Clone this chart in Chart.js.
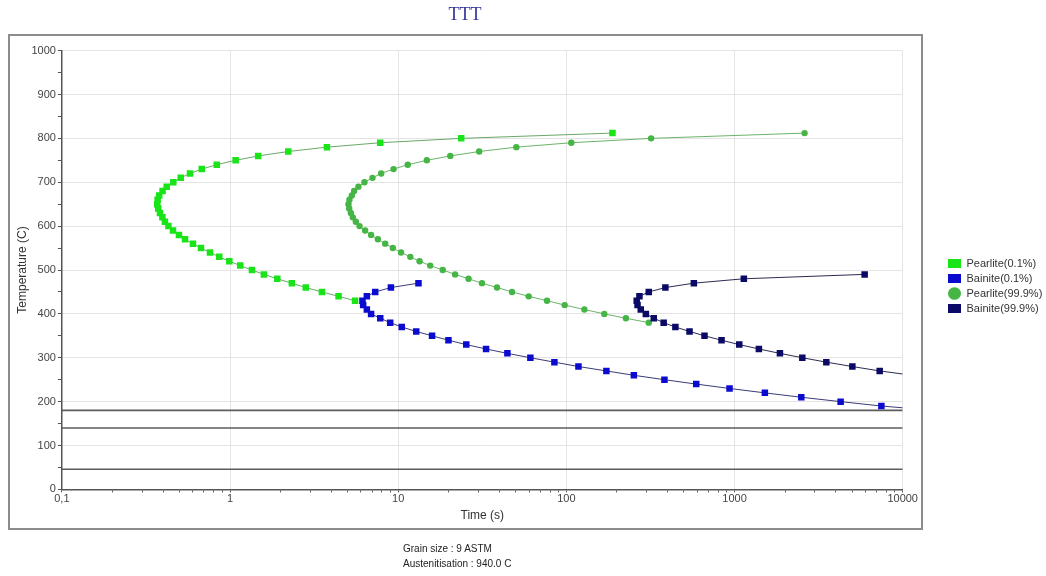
<!DOCTYPE html>
<html>
<head>
<meta charset="utf-8">
<title>TTT</title>
<script src="https://cdn.jsdelivr.net/npm/chart.js@4.4.1/dist/chart.umd.min.js"></script>
<style>
  html, body { margin: 0; padding: 0; background: #fff; }
  #wrap { position: relative; width: 1046px; height: 576px; }
  #notes {
    position: absolute; left: 403px; top: 541px;
    font: 10px 'Liberation Sans', Arial, sans-serif; color: #222; line-height: 15px;
  }
</style>
</head>
<body>
<div id="wrap">
  <canvas id="ttt" width="1046" height="576"></canvas>
  <div id="notes">
    <div>Grain size : 9 ASTM</div>
    <div>Austenitisation : 940.0 C</div>
  </div>
</div>
<script>
// ---- Transformation curves (time in s, temperature in °C) ----
const pearliteStartTemp = [430, 440, 450, 460, 470, 480, 490, 500, 510, 520, 530, 540, 550, 560, 570, 580, 590, 600, 610, 620,
  630, 640, 650, 660, 670, 680, 690, 700, 710, 720, 730, 740, 750, 760, 770, 780, 790, 800, 812];
const pearliteStartTime = [5.54, 4.42, 3.52, 2.82, 2.33, 1.91, 1.59, 1.35, 1.15, 0.99, 0.863, 0.76, 0.672, 0.602, 0.54, 0.497, 0.458, 0.43, 0.41, 0.396,
  0.383, 0.374, 0.369, 0.371, 0.379, 0.397, 0.42, 0.46, 0.509, 0.578, 0.679, 0.834, 1.08, 1.47, 2.22, 3.77, 7.82, 23.7, 188];

const bainiteStartTemp = [470, 460, 450, 440, 430, 420, 410, 400, 390, 380, 370, 360, 350, 340, 330, 320, 310, 300, 290, 280,
  270, 260, 250, 240, 230, 220, 210, 200, 190];
const bainiteStartTime = [13.2, 9.05, 7.3, 6.51, 6.13, 6.19, 6.51, 6.9, 7.82, 8.96, 10.5, 12.8, 15.9, 19.9, 25.4, 33.3, 44.6, 61.1, 84.9, 118,
  173, 252, 383, 592, 934, 1515, 2495, 4275, 7470];
const bainiteStartLineEnd = [10000, 186];

const pearliteEndTemp = [380, 390, 400, 410, 420, 430, 440, 450, 460, 470, 480, 490, 500, 510, 520, 530, 540, 550, 560, 570,
  580, 590, 600, 610, 620, 630, 640, 650, 660, 670, 680, 690, 700, 710, 720, 730, 740, 750, 760, 770, 780, 790, 800, 812];
const pearliteEndTime = [309, 226, 168, 128, 97.7, 76.7, 59.7, 47.5, 38.7, 31.5, 26.2, 21.8, 18.4, 15.5, 13.4, 11.8, 10.4, 9.29, 8.37, 7.57,
  6.9, 6.36, 5.89, 5.6, 5.37, 5.23, 5.11, 5.06, 5.13, 5.3, 5.47, 5.8, 6.3, 7.03, 7.92, 9.38, 11.4, 14.8, 20.4, 30.3, 50.4, 107, 319, 2610];

const bainiteEndTemp = [490, 480, 470, 460, 450, 440, 430, 420, 410, 400, 390, 380, 370, 360, 350, 340, 330, 320, 310, 300,
  290, 280, 270];
const bainiteEndTime = [5940, 1136, 573, 388, 309, 272, 262, 265, 277, 297, 331, 379, 445, 540, 663, 837, 1067, 1396, 1862, 2530,
  3515, 5020, 7300];
const bainiteEndLineEnd = [10000, 263];

// Martensite levels drawn across the whole time range
const martensiteTemps = [180, 140, 46];
const timeRange = [0.1, 10000];

// ---- Axis ticks ----
const timeDecades = [0.1, 1, 10, 100, 1000, 10000];
const timeDecadeLabels = ['0,1', '1', '10', '100', '1000', '10000'];
const timeMinorSteps = [1, 2, 3, 4, 5, 6, 7, 8, 9];
const tempMajorStep = 100;
const tempMinorStep = 50;

const timeTickValues = [];
timeDecades.slice(0, -1).forEach(d => timeMinorSteps.forEach(m => timeTickValues.push(+(d * m).toPrecision(6))));
timeTickValues.push(timeDecades[timeDecades.length - 1]);

function isDecade(v) {
  return timeDecades.some(d => Math.abs(d - v) / d < 1e-6);
}
function decadeLabel(v) {
  const i = timeDecades.findIndex(d => Math.abs(d - v) / d < 1e-6);
  return i >= 0 ? timeDecadeLabels[i] : '';
}

function curve(label, times, temps, lineEnd, marker, radius, fill, line, order) {
  const pts = times.map((t, i) => ({ x: t, y: temps[i] }));
  if (lineEnd) pts.push({ x: lineEnd[0], y: lineEnd[1] });
  const n = times.length;
  return {
    label,
    data: pts,
    showLine: true,
    tension: 0,
    order,
    borderColor: line,
    borderWidth: 1,
    backgroundColor: fill,
    pointStyle: marker,
    pointBackgroundColor: fill,
    pointBorderColor: fill,
    pointBorderWidth: 0,
    pointRadius: ctx => (ctx.dataIndex < n ? radius : 0),
    pointHoverRadius: ctx => (ctx.dataIndex < n ? radius : 0)
  };
}

const datasets = [
  curve('Pearlite(0.1%)', pearliteStartTime, pearliteStartTemp, null, 'rect', 4.6, '#18e418', '#6aa86a', 2),
  curve('Bainite(0.1%)', bainiteStartTime, bainiteStartTemp, bainiteStartLineEnd, 'rect', 4.6, '#0b0bd0', '#3c3c78', 1),
  curve('Pearlite(99.9%)', pearliteEndTime, pearliteEndTemp, null, 'circle', 3.2, '#45b545', '#6cb46c', 3),
  curve('Bainite(99.9%)', bainiteEndTime, bainiteEndTemp, bainiteEndLineEnd, 'rect', 4.6, '#0a0a66', '#2c2c50', 0)
];
martensiteTemps.forEach((t, k) => {
  datasets.push({
    label: 'M' + k,
    data: timeRange.map(x => ({ x, y: t })),
    showLine: true,
    borderColor: '#5c5c5c',
    borderWidth: 1.6,
    pointRadius: 0,
    pointHoverRadius: 0,
    order: 10
  });
});

// Frame around the plot, plus placement of the title and legend blocks
const framePlugin = {
  id: 'framePlugin',
  afterLayout(chart) {
    const tb = chart.titleBlock;
    if (tb) { tb.left = 9; tb.right = 921; tb.width = tb.right - tb.left; }
    const lg = chart.legend;
    if (lg) {
      const w = lg.width, h = lg.height;
      lg.left = 944; lg.right = lg.left + w;
      lg.top = 254; lg.bottom = lg.top + h;
    }
  },
  beforeDraw(chart) {
    const { ctx } = chart;
    ctx.save();
    ctx.fillStyle = '#ffffff';
    ctx.fillRect(0, 0, chart.width, chart.height);
    ctx.strokeStyle = '#8c8c8c';
    ctx.lineWidth = 2;
    ctx.strokeRect(9, 35, 913, 494);
    ctx.restore();
  }
};

Chart.defaults.font.family = "'Liberation Sans', Arial, sans-serif";

new Chart(document.getElementById('ttt'), {
  type: 'scatter',
  data: { datasets },
  plugins: [framePlugin],
  options: {
    responsive: false,
    devicePixelRatio: 1,
    animation: false,
    events: [],
    layout: { padding: { left: 9, right: 35, top: 0, bottom: 49 } },
    plugins: {
      title: {
        display: true,
        text: 'TTT',
        color: '#333399',
        font: { family: "'Liberation Serif', 'DejaVu Serif', serif", size: 18, weight: 'normal' },
        padding: { top: 4, bottom: 25 }
      },
      legend: {
        display: true,
        position: 'right',
        align: 'start',
        labels: {
          usePointStyle: true,
          pointStyleWidth: 13,
          boxHeight: 9,
          padding: 4,
          color: '#333',
          font: { size: 11 },
          filter: item => item.datasetIndex < 4,
          sort: (a, b) => a.datasetIndex - b.datasetIndex
        }
      },
      tooltip: { enabled: false }
    },
    scales: {
      x: {
        type: 'logarithmic',
        min: timeRange[0],
        max: timeRange[1],
        afterBuildTicks: axis => { axis.ticks = timeTickValues.map(v => ({ value: v })); },
        ticks: {
          autoSkip: false,
          maxRotation: 0,
          padding: 0,
          color: '#444',
          font: { size: 11 },
          callback: v => decadeLabel(v)
        },
        grid: {
          color: ctx => (ctx.tick && isDecade(ctx.tick.value) ? '#e4e4e4' : 'rgba(0,0,0,0)'),
          tickColor: '#555',
          tickLength: 3,
          lineWidth: 1
        },
        border: { color: '#555', width: 1.5 },
        title: { display: true, text: 'Time (s)', color: '#333', font: { size: 12 }, padding: { top: 3, bottom: 4 } }
      },
      y: {
        type: 'linear',
        min: 0,
        max: 1000,
        ticks: {
          stepSize: tempMinorStep,
          autoSkip: false,
          padding: 2,
          color: '#444',
          font: { size: 11 },
          callback: v => (v % tempMajorStep === 0 ? String(v) : '')
        },
        grid: {
          color: ctx => (ctx.tick && ctx.tick.value % tempMajorStep === 0 ? '#e4e4e4' : 'rgba(0,0,0,0)'),
          tickColor: '#555',
          tickLength: 4,
          lineWidth: 1
        },
        border: { color: '#555', width: 1.5 },
        title: { display: true, text: 'Temperature (C)', color: '#333', font: { size: 12 }, padding: { top: 6, bottom: 0 } }
      }
    }
  }
});
</script>
</body>
</html>
